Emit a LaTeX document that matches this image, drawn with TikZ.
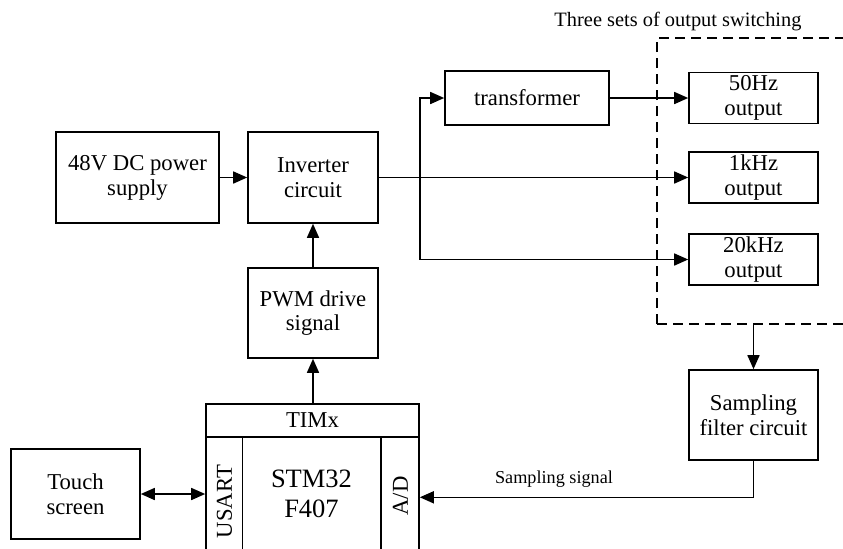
\documentclass[tikz,border=0pt]{standalone}
\usepackage{fontspec}
\setmainfont{Liberation Serif}
\usetikzlibrary{arrows.meta,calc}
\begin{document}
\begin{tikzpicture}[x=0.5pt,y=-0.5pt,
  box/.style={draw,line width=0.8pt,align=center,inner sep=0pt,
    font=\fontsize{11.35}{12.4}\selectfont},
  blk/.style={box,minimum width=64.5pt,minimum height=45pt},
  outbox/.style={box,minimum width=64.5pt,minimum height=25.5pt},
  plain/.style={inner sep=0pt,align=center,font=\fontsize{11.35}{12.4}\selectfont},
  conn/.style={line width=0.8pt},
  arr/.style={conn,-{Triangle[length=7pt,width=6pt]}},
  darr/.style={conn,{Triangle[length=7pt,width=6pt]}-{Triangle[length=7pt,width=6pt]}},
  group/.style={line width=1.2pt,dash pattern=on 5pt off 3pt}]

\useasboundingbox (0,0) rectangle (843,548);
\clip (0,0) rectangle (843,548);

% power path
\node[box,minimum width=81.5pt,minimum height=45.5pt] (psu) at (137.5,177.5) {48V DC power\\supply};
\node[box,minimum width=65pt,minimum height=45.5pt] (inv) at (313,177.5) {Inverter\\circuit};
\node[box,minimum width=65pt,minimum height=45pt] (pwm) at (313,313) {PWM drive\\signal};
\node[box,minimum width=82pt,minimum height=27pt] (trans) at (527,98) {transformer};

% output group
\node[outbox] (o50) at (753.5,98) {50Hz\\output};
\node[outbox] (o1k) at (753.5,177.5) {1kHz\\output};
\node[outbox] (o20k) at (753.5,259.5) {20kHz\\output};
\node[plain,font=\fontsize{10.2}{12}\selectfont] (title) at (678,21.7) {Three sets of output switching};
\draw[group] (657,324) -- (657,38) -- (870,38);
\draw[group] (657,324) -- (870,324);
\coordinate (dbot) at (753.5,324);

% sampling
\node[blk] (samp) at (753.5,415) {Sampling\\filter circuit};
\node[blk] (touch) at (75.5,494) {Touch\\screen};

% microcontroller
\node[draw,line width=0.8pt,minimum width=106.5pt,minimum height=16.35pt,inner sep=0pt,
  font=\fontsize{11.35}{12.4}\selectfont] (timx) at (312.5,420.35) {TIMx};
\node[draw,line width=0.8pt,minimum width=18.15pt,minimum height=66.65pt,inner sep=0pt] (usart) at (224.15,503.35) {};
\node[draw,line width=0.8pt,minimum width=19pt,minimum height=66.65pt,inner sep=0pt] (ad) at (400,503.35) {};
\node[plain,rotate=90] (usartlbl) at (224.5,501.5) {USART};
\node[plain,rotate=90] (adlbl) at (400.5,496) {A/D};
\node[plain,font=\fontsize{13.25}{15}\selectfont] (core) at (311.5,494) {STM32\\F407};

% connectors
\draw[arr] (psu.east) -- (inv.west);
\draw[arr] (pwm.north) -- (inv.south);
\draw[arr] (pwm.south |- timx.north) -- (pwm.south);
\draw[arr] (inv.east) -- (o1k.west);
\coordinate (br) at (420,177.5);
\draw[arr] (br) |- (trans.west);
\draw[arr] (br) |- (o20k.west);
\draw[arr] (trans.east) -- (o50.west);
\draw[arr] (dbot) -- (samp.north);
\coordinate (sigturn) at (753.5,497.3);
\draw[arr] (samp.south) -- (sigturn) -- (sigturn -| ad.east);
\node[plain,font=\fontsize{9.1}{11}\selectfont] (siglbl) at (554,479) {Sampling signal};
\draw[darr] (touch.east) -- (touch.east -| usart.west);

\end{tikzpicture}
\end{document}
